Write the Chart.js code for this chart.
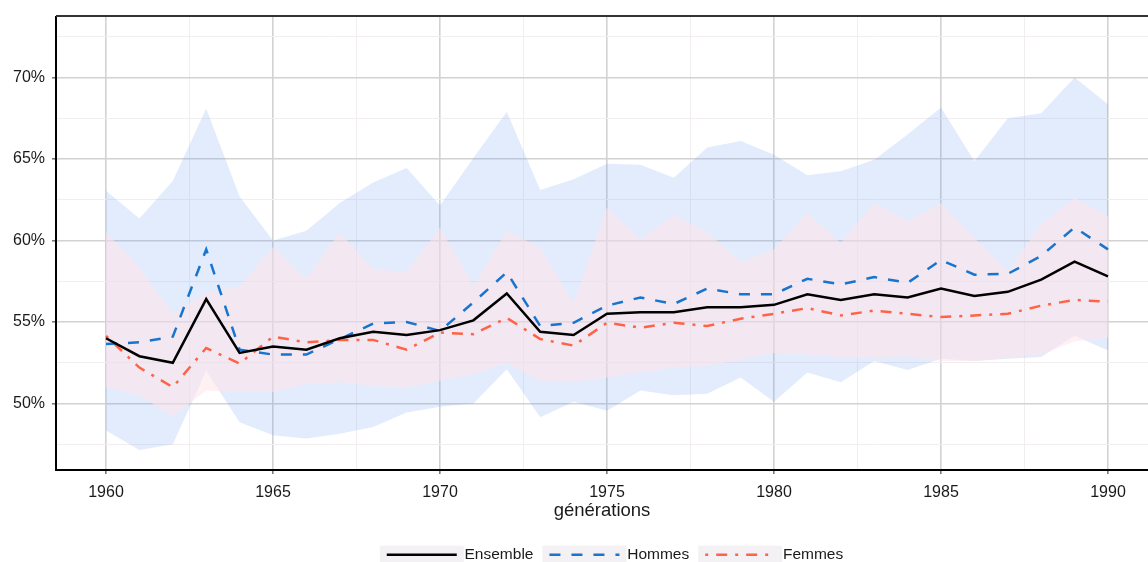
<!DOCTYPE html>
<html lang="fr">
<head>
<meta charset="utf-8">
<title>Générations</title>
<script src="https://cdn.jsdelivr.net/npm/chart.js@4.4.1/dist/chart.umd.min.js"></script>
<style>
  html, body { margin: 0; padding: 0; background: #fff; overflow: hidden; }
  #cadre { width: 1148px; height: 562px; position: relative; }
</style>
</head>
<body>
<div id="cadre"><canvas id="graphique"></canvas></div>
<script>
// valeurs (en %)
const generations = [1960, 1961, 1962, 1963, 1964, 1965, 1966, 1967, 1968, 1969,
  1970, 1971, 1972, 1973, 1974, 1975, 1976, 1977, 1978, 1979,
  1980, 1981, 1982, 1983, 1984, 1985, 1986, 1987, 1988, 1989, 1990];

const ensemble = [54.0, 52.9, 52.5, 56.4, 53.1, 53.5, 53.3, 54.0, 54.4, 54.2,
  54.5, 55.1, 56.75, 54.4, 54.2, 55.5, 55.6, 55.6, 55.9, 55.9,
  56.05, 56.7, 56.35, 56.7, 56.5, 57.05, 56.6, 56.85, 57.6, 58.7, 57.8];

const hommes = [53.65, 53.75, 54.1, 59.45, 53.3, 53.0, 53.0, 53.95, 54.9, 55.0,
  54.45, 56.2, 58.05, 54.75, 54.95, 56.0, 56.5, 56.1, 57.05, 56.7,
  56.7, 57.65, 57.3, 57.75, 57.4, 58.8, 57.9, 57.95, 59.05, 60.8, 59.45];

const femmes = [54.15, 52.2, 51.0, 53.4, 52.45, 54.1, 53.75, 53.9, 53.9, 53.3,
  54.35, 54.25, 55.25, 53.95, 53.55, 54.95, 54.65, 54.95, 54.75, 55.2,
  55.5, 55.85, 55.4, 55.7, 55.5, 55.3, 55.4, 55.5, 56.0, 56.35, 56.25];

// intervalles (bandes)
const hommesHaut = [63.05, 61.35, 63.65, 68.1, 62.7, 60.0, 60.6, 62.3, 63.55, 64.45,
  62.15, 65.05, 67.9, 63.1, 63.75, 64.7, 64.65, 63.85, 65.7, 66.1,
  65.25, 64.0, 64.25, 64.95, 66.5, 68.15, 64.85, 67.5, 67.8, 70.0, 68.35];

const hommesBas = [48.35, 47.15, 47.5, 52.0, 48.85, 48.05, 47.85, 48.15, 48.55, 49.45,
  49.8, 50.0, 52.1, 49.15, 50.1, 49.55, 50.8, 50.5, 50.6, 51.6,
  50.1, 51.9, 51.3, 52.6, 52.05, 52.75, 52.6, 52.75, 52.85, 54.15, 53.25];

const femmesHaut = [60.5, 58.35, 55.5, 56.8, 57.2, 59.6, 57.65, 60.5, 58.25, 58.05,
  60.8, 57.2, 60.6, 59.55, 56.2, 62.0, 60.05, 61.55, 60.5, 58.7,
  59.45, 61.7, 59.85, 62.3, 61.2, 62.3, 60.15, 58.1, 61.0, 62.6, 61.5];

const femmesBas = [51.0, 50.5, 49.2, 50.8, 50.7, 50.7, 51.2, 51.3, 51.05, 51.0,
  51.4, 51.8, 52.5, 51.4, 51.3, 51.6, 51.9, 52.2, 52.3, 52.7,
  53.1, 53.0, 52.8, 52.8, 52.9, 52.6, 52.6, 52.8, 53.0, 53.8, 54.05];

// graduations (majeures tous les 5, mineures entre)
const xTicks = [1960, 1962.5, 1965, 1967.5, 1970, 1972.5, 1975, 1977.5, 1980, 1982.5, 1985, 1987.5, 1990];
const yTicks = [47.5, 50, 52.5, 55, 57.5, 60, 62.5, 65, 67.5, 70, 72.5];

const POLICE = "'Liberation Sans', Arial, sans-serif";
const isMajor = v => Math.abs(v / 5 - Math.round(v / 5)) < 1e-6;
const points = vals => generations.map((g, i) => ({ x: g, y: vals[i] }));

const series = [
  { label: "Ensemble", data: ensemble, color: "#000000", dash: [] },
  { label: "Hommes", data: hommes, color: "#1874CD", dash: [11, 11] },
  { label: "Femmes", data: femmes, color: "#FF6347", dash: [3, 8, 11, 8] },
];

const lineSets = series.map(s => ({
  label: s.label,
  data: points(s.data),
  borderColor: s.color,
  borderWidth: 2.5,
  borderDash: s.dash,
  pointRadius: 0,
  tension: 0,
  fill: false,
}));

const bandSet = (vals, color, fill) => ({
  label: "",
  data: points(vals),
  borderWidth: 0,
  borderColor: "transparent",
  backgroundColor: color,
  pointRadius: 0,
  tension: 0,
  fill: fill,
});

// gris léger derrière les clés de légende
const fondLegende = {
  id: "fondLegende",
  beforeDraw(chart) {
    const lg = chart.legend;
    if (!lg || !lg.legendHitBoxes) return;
    const ctx = chart.ctx;
    ctx.save();
    ctx.fillStyle = "#f3f1f3";
    lg.legendHitBoxes.forEach(hb => {
      const cy = hb.top + hb.height / 2;
      ctx.fillRect(hb.left - 7, cy - 9, 70 + 14, 18);
    });
    ctx.restore();
  }
};

// la légende est centrée sur le panneau, pas sur la figure
const decalageLegende = {
  id: "decalageLegende",
  afterLayout(chart) {
    const lg = chart.legend;
    if (!lg) return;
    lg.left += 41; lg.right += 41;
    lg.top += 10.5; lg.bottom += 10.5;
  }
};

// bord supérieur du panneau
const bordHaut = {
  id: "bordHaut",
  afterDatasetsDraw(chart) {
    const { ctx, chartArea } = chart;
    ctx.save();
    ctx.strokeStyle = "#333333";
    ctx.lineWidth = 2;
    ctx.beginPath();
    ctx.moveTo(chartArea.left, chartArea.top - 0.5);
    ctx.lineTo(chartArea.right, chartArea.top - 0.5);
    ctx.stroke();
    ctx.restore();
  }
};

const gridColor = c => (c.tick && isMajor(c.tick.value)) ? "#d2d2d2" : "#f2eef0";
const gridWidth = c => (c.tick && isMajor(c.tick.value)) ? 1.6 : 1;
const tickColor = c => (c.tick && isMajor(c.tick.value)) ? "#7a7a7a" : "rgba(0,0,0,0)";

new Chart(document.getElementById("graphique"), {
  type: "line",
  data: {
    datasets: [
      ...lineSets,
      bandSet(femmesHaut, "rgba(255, 228, 233, 0.55)", "+1"),
      bandSet(femmesBas, "transparent", false),
      bandSet(hommesHaut, "rgba(100, 150, 240, 0.18)", "+1"),
      bandSet(hommesBas, "transparent", false),
    ]
  },
  options: {
    responsive: true,
    maintainAspectRatio: false,
    animation: false,
    layout: { padding: { top: 15, left: 0, right: 0, bottom: 0 } },
    plugins: {
      tooltip: { enabled: false },
      legend: {
        position: "bottom",
        labels: {
          usePointStyle: true,
          pointStyleWidth: 70,
          padding: 16,
          color: "#1a1a1a",
          font: { family: POLICE, size: 15.5 },
          generateLabels: () => series.map((s, i) => ({
            text: s.label,
            strokeStyle: s.color,
            fillStyle: "transparent",
            lineWidth: 2.5,
            lineDash: s.dash,
            pointStyle: "line",
            hidden: false,
            datasetIndex: i,
            fontColor: "#1a1a1a",
          })),
        }
      }
    },
    scales: {
      x: {
        type: "linear",
        min: 1958.503,
        max: 1991.198,
        afterBuildTicks: a => { a.ticks = xTicks.map(v => ({ value: v })); },
        afterFit: a => { a.height = 50.5; },
        ticks: {
          autoSkip: false, maxRotation: 0, padding: 9,
          color: "#1a1a1a",
          font: { family: POLICE, size: 16 },
          callback: v => isMajor(v) ? String(v) : "",
        },
        grid: { color: gridColor, lineWidth: gridWidth, tickLength: 4, tickColor: tickColor },
        border: { color: "#000000", width: 2 },
        title: {
          display: true, text: "générations", color: "#1a1a1a",
          font: { family: POLICE, size: 18.5 },
          padding: { top: 0, bottom: -2 },
        },
      },
      y: {
        type: "linear",
        min: 45.92,
        max: 73.73,
        afterBuildTicks: a => { a.ticks = yTicks.map(v => ({ value: v })); },
        afterFit: a => { a.width = 56; },
        ticks: {
          autoSkip: false, padding: 7,
          color: "#1a1a1a",
          font: { family: POLICE, size: 16 },
          callback: v => isMajor(v) ? v + "%" : "",
        },
        grid: { color: gridColor, lineWidth: gridWidth, tickLength: 4, tickColor: tickColor },
        border: { color: "#000000", width: 2 },
      }
    }
  },
  plugins: [fondLegende, decalageLegende, bordHaut]
});
</script>
</body>
</html>
